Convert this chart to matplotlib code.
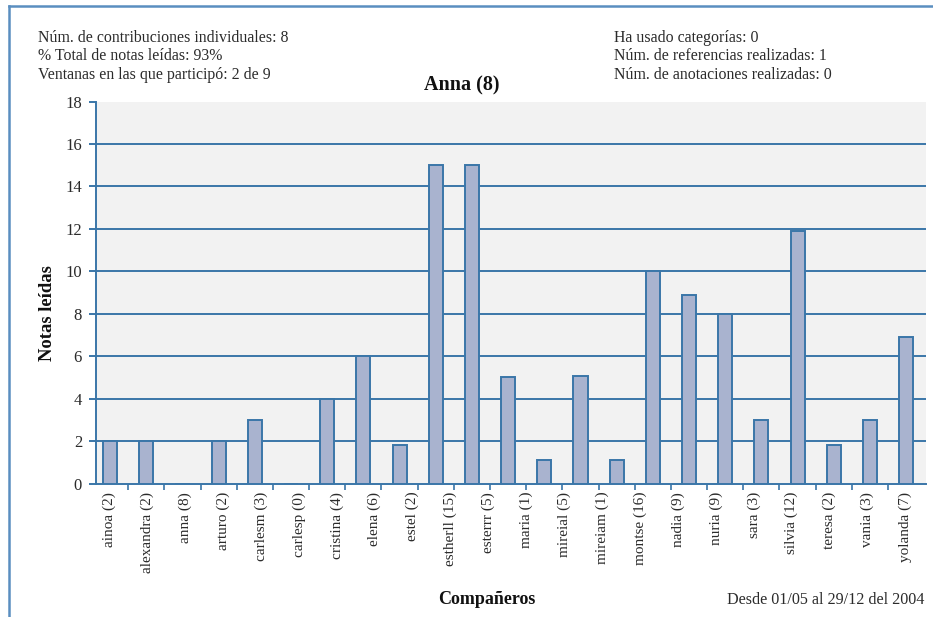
import matplotlib
matplotlib.use("Agg")
import matplotlib.pyplot as plt
from matplotlib.lines import Line2D
import numpy as np

plt.rcParams['font.family'] = ['Liberation Serif', 'DejaVu Serif']

# ---- data ----
tick_labels = ["ainoa (2)", "alexandra (2)", "anna (8)", "arturo (2)", "carlesm (3)",
               "carlesp (0)", "cristina (4)", "elena (6)", "estel (2)", "estherll (15)",
               "esterrr (5)", "maria (1)", "mireial (5)", "mireiam (1)", "montse (16)",
               "nadia (9)", "nuria (9)", "sara (3)", "silvia (12)", "teresa (2)",
               "vania (3)", "yolanda (7)"]
bar_values = [2, 2, 0, 2, 3, 0, 4, 6, 1.8, 15, 15, 5, 1.1, 5.05, 1.1, 10, 8.9, 8, 3,
              11.9, 1.8, 3, 6.9]
y_ticks = [0, 2, 4, 6, 8, 10, 12, 14, 16, 18]
grid_values = [2, 4, 6, 8, 10, 12, 14, 16]

header_left = ["Núm. de contribuciones individuales: 8",
               "% Total de notas leídas: 93%",
               "Ventanas en las que participó: 2 de 9"]
header_right = ["Ha usado categorías: 0",
                "Núm. de referencias realizadas: 1",
                "Núm. de anotaciones realizadas: 0"]
title = "Anna (8)"
ylabel = "Notas leídas"
xlabel = "Compañeros"
date_note = "Desde 01/05 al 29/12 del 2004"

blue = "#3a76a8"
fill = "#a9b3cf"
txt = "#2b2b2b"

W, H = 933, 617
fig = plt.figure(figsize=(W / 100, H / 100), dpi=100)
fig.patch.set_facecolor("white")

ax = fig.add_axes([96 / W, 1 - 483.5 / H, (926 - 96) / W, (483.5 - 101.5) / H])
ax.set_facecolor("#f2f2f2")

n = len(bar_values)
x = np.arange(n)
for g in grid_values:
    ax.axhline(g, color=blue, lw=1.4, zorder=1)
ax.bar(x, bar_values, width=0.39, color=fill, edgecolor=blue, linewidth=1.4, zorder=3)

ax.set_xlim(-0.39, n - 0.45)
ax.set_ylim(0, 18)

for s in ["top", "right"]:
    ax.spines[s].set_visible(False)
for s in ["left", "bottom"]:
    ax.spines[s].set_color(blue)
    ax.spines[s].set_linewidth(1.4)

ax.set_yticks(y_ticks)
ax.tick_params(axis="y", colors=blue, length=5, width=1.4, labelcolor=txt,
               labelsize=12, pad=5)

# x: tick marks between bars, labels spread evenly across same span
ax.set_xticks(np.arange(n - 1) + 0.5, minor=True)
ax.tick_params(axis="x", which="minor", colors=blue, length=4, width=1.2)
label_pos = np.arange(len(tick_labels)) * (n - 1) / (len(tick_labels) - 1) - 0.02
ax.set_xticks(label_pos)
ax.set_xticklabels(tick_labels, rotation=90, fontsize=11, color=txt)
ax.tick_params(axis="x", which="major", length=0, pad=6)

fig.text(462 / W, 1 - 85 / H, title, ha="center", va="center",
         fontsize=14.5, fontweight="bold", color="#111111")

fig.text(47 / W, 1 - 313 / H, ylabel, rotation=90, ha="center", va="center",
         fontsize=13.4, fontweight="bold", color="#111111")
fig.text(487 / W, 1 - 599 / H, xlabel, ha="center", va="center",
         fontsize=13, fontweight="bold", color="#111111")
fig.text(924 / W, 1 - 600 / H, date_note, ha="right", va="center",
         fontsize=11.6, color=txt)

for i, line in enumerate(header_left):
    fig.text(38 / W, 1 - (38 + 18.5 * i) / H, line, ha="left", va="center",
             fontsize=11.4, color=txt)
for i, line in enumerate(header_right):
    fig.text(614 / W, 1 - (38 + 18.5 * i) / H, line, ha="left", va="center",
             fontsize=11.4, color=txt)

# figure frame lines (top and left)
fig.add_artist(Line2D([8.5 / W, 1], [1 - 6 / H, 1 - 6 / H], transform=fig.transFigure,
                      color="#5a8ec0", lw=1.8))
fig.add_artist(Line2D([8.5 / W, 8.5 / W], [0, 1 - 6 / H], transform=fig.transFigure,
                      color="#5a8ec0", lw=1.8))

fig.savefig("out.png", dpi=100)
